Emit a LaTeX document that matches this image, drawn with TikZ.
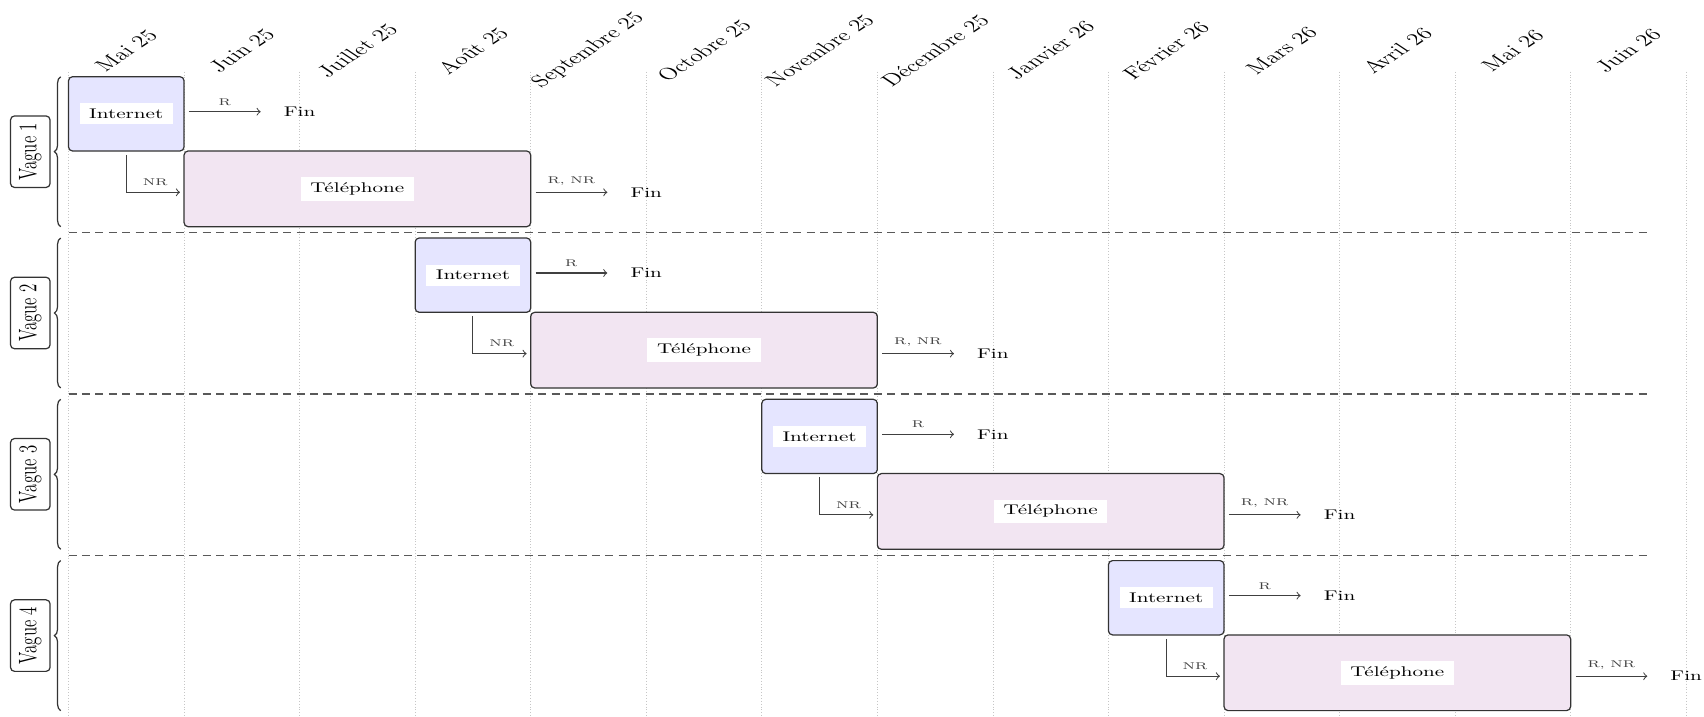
\documentclass[tikz,border=0pt]{standalone}
\usepackage{graphicx}
\usetikzlibrary{decorations.pathreplacing,calc}
\newcommand\stxt[1]{\scalebox{1.04}[0.69]{#1}}
\begin{document}
\begin{tikzpicture}[x=0.4918pt, y=-0.4918pt,
  gridline/.style={gray!45, densely dotted, line width=0.4pt},
  sepline/.style={black!65, dash pattern=on 4pt off 2.6pt, line width=0.6pt},
  intbox/.style={draw=black!80, fill=blue!10, rounded corners=2pt, line width=0.6pt, inner sep=0pt, minimum width=56.83pt, minimum height=36.54pt},
  telbox/.style={draw=black!80, fill=violet!10, rounded corners=2pt, line width=0.6pt, inner sep=0pt, minimum width=170.48pt, minimum height=37.23pt},
  lbl/.style={fill=white, inner xsep=4.7pt, inner ysep=2.7pt},
  fin/.style={inner sep=0pt},
  conn/.style={->, black!75, line width=0.5pt},
  tag/.style={font=\scriptsize, inner sep=1pt},
  month/.style={inner sep=0pt},
  wave/.style={draw=black!80, rounded corners=2pt, line width=0.6pt, inner xsep=4.2pt, inner ysep=3.4pt},
  wbrace/.style={decorate, decoration={brace, amplitude=3.1pt}, black!80, line width=0.6pt}
]
\useasboundingbox (0,0) rectangle (1704,716);
% grid
\foreach \k in {0,...,14}
  \draw[gridline] ({68.5+115.55*\k},71.7) -- ({68.5+115.55*\k},716);
% months
\foreach \m [count=\c from 0] in {Mai 25, Juin 25, Juillet 25, Août 25, Septembre 25, Octobre 25, Novembre 25, Décembre 25, Janvier 26, Février 26, Mars 26, Avril 26, Mai 26, Juin 26}
  \node[month] (m\c) at ({68.5+115.55*(\c+0.5)},50.5) {\stxt{\rotatebox{45}{\large \m}}};
% separators
\foreach \j in {0,1,2}
  \draw[sepline] (68.5,{232.7+161.3*\j}) -- (1647.3,{232.7+161.3*\j});
% waves
\foreach \i [count=\n] in {0,...,3}{
  \pgfmathsetmacro\xs{68.5+115.55*3*\i}
  \pgfmathsetmacro\yo{161.3*\i}
  \draw[wbrace] (60.7,{226.7+\yo}) -- (60.7,{76.7+\yo});
  \node[wave] (v\i) at (30.3,{151.7+\yo}) {\stxt{\rotatebox{90}{\large Vague \n}}};
  \node[intbox] (int\i) at ({\xs+57.775},{113.85+\yo}) {};
  \node[lbl] (intt\i) at (int\i.center) {\stxt{Internet}};
  \node[telbox] (tel\i) at ({\xs+115.55+173.325},{188.85+\yo}) {};
  \node[lbl] (telt\i) at (tel\i.center) {\stxt{Téléphone}};
  \node[fin] (finr\i) at ({\xs+231.1},{111.7+\yo}) {\stxt{Fin}};
  \node[fin] (fint\i) at ({\xs+577.75},{192.3+\yo}) {\stxt{Fin}};
  \coordinate (telin\i) at ({\xs+115.55},{192.3+\yo});
  \draw[conn, shorten <=2.1pt, shorten >=11.2pt] (int\i.east |- finr\i) -- node[tag, above=1.8pt, pos=0.405] {\stxt{R}} (finr\i.west);
  \draw[conn, shorten <=1.6pt, shorten >=2pt] (int\i.south) |- node[tag, above=2pt, pos=0.75] {\stxt{NR}} (telin\i);
  \draw[conn, shorten <=2.1pt, shorten >=11.2pt] (tel\i.east |- fint\i) -- node[tag, above=2.2pt, pos=0.405] {\stxt{R, NR}} (fint\i.west);
}
\end{tikzpicture}
\end{document}
